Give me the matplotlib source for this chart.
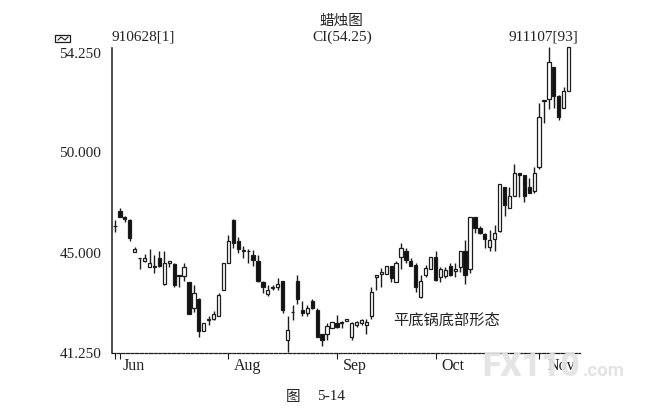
import numpy as np
import matplotlib
matplotlib.use("Agg")
import matplotlib.pyplot as plt
from matplotlib.patches import Rectangle
from matplotlib.lines import Line2D

plt.rcParams['font.family'] = ['Liberation Serif', 'Noto Sans CJK SC']

# candle values, bar 1..93
opens = [46.32, 47.08, 46.80, 46.63, 45.07, 44.83, 44.71, 44.48, 44.47, 44.83,
         43.83, 44.61, 44.58, 44.17, 44.15, 43.91, 42.94, 43.28, 42.06, 42.48,
         42.52, 42.61, 43.60, 44.61, 46.63, 45.61, 45.11, 45.10, 44.94, 44.71,
         43.91, 43.47, 43.69, 43.72, 43.94, 41.73, 42.77, 43.95, 42.84, 42.74,
         43.18, 42.86, 41.93, 41.96, 42.18, 42.37, 42.40, 42.44, 41.85, 42.27,
         42.36, 42.27, 42.61, 44.08, 44.19, 44.19, 44.51, 43.91, 44.86, 45.12,
         44.71, 44.54, 43.35, 44.17, 44.39, 44.86, 44.08, 44.14, 44.51, 44.31,
         44.48, 45.08, 44.39, 46.80, 46.24, 45.94, 45.31, 45.68, 46.09, 48.25,
         47.24, 47.82, 48.98, 48.86, 48.28, 48.09, 49.27, 52.23, 52.26, 53.66,
         52.40, 51.87, 52.63]
highs = [46.63, 47.21, 46.83, 46.67, 45.31, 44.83, 44.96, 45.20, 44.92, 45.10,
         45.12, 44.70, 44.61, 44.17, 44.61, 43.91, 43.79, 43.32, 42.37, 42.61,
         42.81, 43.51, 44.61, 45.89, 46.67, 45.81, 45.35, 45.18, 45.15, 44.92,
         43.94, 43.79, 43.81, 44.07, 43.94, 42.61, 43.03, 44.17, 43.18, 43.03,
         43.28, 42.94, 41.96, 42.35, 42.40, 42.65, 42.44, 42.52, 42.40, 42.44,
         42.52, 42.52, 43.72, 44.17, 44.42, 44.51, 44.51, 44.71, 45.51, 45.23,
         44.80, 44.61, 44.17, 44.54, 44.86, 45.12, 44.48, 44.46, 44.61, 44.61,
         45.08, 45.64, 46.80, 46.80, 46.34, 45.97, 46.14, 46.39, 48.41, 48.25,
         48.28, 49.39, 48.98, 48.86, 48.70, 49.24, 52.12, 52.23, 54.49, 53.66,
         52.45, 52.78, 54.49]
lows = [46.02, 46.77, 46.55, 45.61, 45.03, 44.38, 44.67, 44.46, 44.25, 44.46,
        43.81, 44.46, 43.70, 43.70, 43.95, 42.69, 42.78, 41.83, 42.06, 42.27,
        42.49, 42.61, 43.60, 44.61, 45.23, 45.02, 44.80, 44.61, 44.51, 43.91,
        43.50, 43.37, 43.60, 43.60, 42.74, 41.26, 42.49, 43.09, 42.61, 42.61,
        42.90, 41.85, 41.51, 41.73, 42.18, 42.18, 42.18, 42.44, 41.73, 42.21,
        42.27, 41.96, 42.52, 43.62, 43.72, 44.19, 43.91, 43.91, 44.38, 44.61,
        44.51, 43.53, 43.32, 44.10, 44.39, 43.95, 43.91, 44.04, 44.13, 44.10,
        44.29, 43.82, 44.23, 45.97, 45.94, 45.23, 45.10, 45.10, 46.06, 46.83,
        47.21, 47.82, 47.78, 47.54, 47.95, 47.95, 49.14, 51.23, 51.83, 51.87,
        51.37, 51.87, 52.63]
closes = [46.35, 46.80, 46.67, 45.73, 45.20, 44.80, 44.83, 44.61, 44.51, 44.51,
          44.61, 44.70, 43.79, 44.14, 44.48, 42.69, 43.50, 42.06, 42.37, 42.50,
          42.71, 43.41, 44.61, 45.61, 45.51, 45.20, 45.13, 45.08, 44.73, 43.93,
          43.72, 43.62, 43.71, 43.85, 42.84, 42.08, 42.79, 43.26, 42.74, 42.94,
          42.94, 41.85, 41.73, 42.26, 42.40, 42.21, 42.37, 42.52, 42.36, 42.39,
          42.49, 42.40, 43.52, 44.17, 44.29, 44.51, 44.04, 44.61, 45.23, 44.73,
          44.51, 43.72, 43.95, 44.42, 44.86, 43.98, 44.38, 44.36, 44.18, 44.41,
          45.08, 44.17, 46.80, 46.22, 45.97, 45.68, 45.64, 45.97, 48.41, 47.37,
          47.82, 48.98, 48.86, 47.82, 47.99, 48.98, 51.52, 52.20, 53.88, 52.40,
          51.52, 52.63, 54.49]

y_ticks = [41.25, 45.0, 50.0, 54.25]
y_labels = ['41.250', '45.000', '50.000', '54.250']
month_bars = [1, 2, 24, 46, 66, 87]
month_names = ['Jun', 'Aug', 'Sep', 'Oct', 'Nov']
month_px = [134, 248, 355, 453, 561]

W, H = 661, 413
INK = '#1c1c1c'

# the price axis is not linear: labels sit about evenly, so go knot by knot
knot_val = np.array([41.25, 45.0, 50.0, 54.25, 55.25])
knot_pos = np.array([0.0, 99.5, 200.5, 299.5, 322.8])

def forward(v):
    return np.interp(v, knot_val, knot_pos)

def inverse(p):
    return np.interp(p, knot_pos, knot_val)

fig = plt.figure(figsize=(W / 100, H / 100), dpi=100)
ax = fig.add_axes([111.7 / W, (H - 352.5) / H, (580 - 111.7) / W, 305 / H])
ax.set_yscale('function', functions=(forward, inverse))
ax.set_ylim(41.25, inverse(305.0))
ax.set_xlim(0.33, 95.3)

bars = np.arange(1, len(opens) + 1)
o = np.array(opens)
c = np.array(closes)
up = c >= o
ax.vlines(bars, lows, highs, color=INK, lw=1.0, zorder=2, clip_on=False)
ax.bar(bars[up], (c - o)[up], bottom=o[up], width=0.66, facecolor='white',
       edgecolor=INK, lw=0.9, zorder=3, clip_on=False)
ax.bar(bars[~up], (o - c)[~up], bottom=c[~up], width=0.66, facecolor='#111111',
       edgecolor=INK, lw=0.9, zorder=3, clip_on=False)

for s in ['top', 'right']:
    ax.spines[s].set_visible(False)
ax.spines['left'].set_linewidth(1.1)
ax.spines['left'].set_color(INK)
ax.spines['bottom'].set_linewidth(0.9)
ax.spines['bottom'].set_color(INK)
ax.spines['bottom'].set_linestyle((0, (2.5, 1.2)))

ax.set_yticks(y_ticks)
ax.set_yticklabels(y_labels, fontsize=11, color='#222222')
ax.tick_params(axis='y', length=0, pad=7.5)
ax.minorticks_off()
ax.set_xticks(month_bars)
ax.set_xticklabels([])
ax.tick_params(axis='x', length=4, width=0.8, color=INK)

def put(x, y, s, **kw):
    fig.text(x / W, 1 - y / H, s, va='center', color='#222222', **kw)

put(341, 21, '蜡烛图', ha='center', fontsize=10.5)
put(111, 37, '910628[1]', ha='left', fontsize=11)
put(342, 37, 'CI(54.25)', ha='center', fontsize=11)
put(578, 37, '911107[93]', ha='right', fontsize=11)
for name, xp in zip(month_names, month_px):
    put(xp, 366, name, ha='center', fontsize=11.5)
put(393, 321, '平底锅底部形态', ha='left', fontsize=11)
put(293, 397, '图', ha='center', fontsize=10.5)
put(331, 397, '5-14', ha='center', fontsize=11)

# little box icon left of the header
fig.add_artist(Rectangle((55 / W, 1 - 42 / H), 15 / W, 7 / H, fill=False,
                         edgecolor=INK, lw=0.9, transform=fig.transFigure))
fig.add_artist(Line2D([58 / W, 61 / W, 65 / W, 68 / W],
                      [1 - 40 / H, 1 - 37 / H, 1 - 40 / H, 1 - 37 / H],
                      color=INK, lw=0.8))

# site watermark over the lower right corner
fig.text(482 / W, 1 - 376 / H, 'FX110', family='Roboto', weight='black', fontsize=24,
         color='#e4e4e4', alpha=0.93, va='baseline', ha='left', zorder=10)
fig.text(583 / W, 1 - 376 / H, '.com', family='Roboto', weight='bold', fontsize=13.5,
         color='#e4e4e4', va='baseline', ha='left', zorder=10)

fig.savefig('out.png', dpi=100)
